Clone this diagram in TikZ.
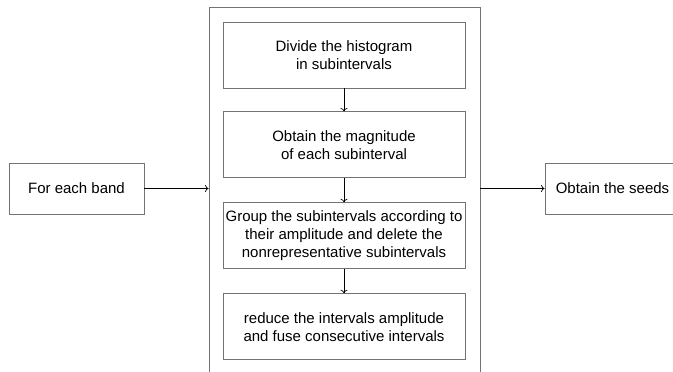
\documentclass[tikz,border=0pt]{standalone}
\usepackage{fontspec}
\setmainfont{Liberation Sans}
\usetikzlibrary{arrows.meta, positioning}

\begin{document}
\begin{tikzpicture}[x=1pt, y=-1pt, font=\fontsize{15}{18}\selectfont,
  stepbox/.style={draw=black!55, line width=0.9pt, minimum width=242pt, minimum height=66pt, align=center, inner sep=0pt},
  sidebox/.style={draw=black!55, line width=0.9pt, minimum width=135pt, minimum height=51pt, inner sep=0pt},
  flow/.style={-{To[length=3.5pt, width=7pt]}, line width=0.7pt}]
\useasboundingbox (0,0) rectangle (673,372);
\clip (0,0) rectangle (673,372);
% frame round the steps, open at the bottom
\node[draw=black!55, line width=0.9pt, minimum width=271pt, minimum height=390pt] (frame) at (344.5,202) {};
\node[stepbox] (divide) at (344,55) {Divide the histogram\\in subintervals};
\node[stepbox, below=23pt of divide] (magnitude) {Obtain the magnitude\\of each subinterval};
\node[stepbox, below=24pt of magnitude] (group) {Group the subintervals according to\\their amplitude and delete the\\nonrepresentative subintervals};
\node[stepbox, below=24pt of group] (reduce) {reduce the intervals amplitude\\and fuse consecutive intervals};
\draw[flow] (divide) -- (magnitude);
\draw[flow] (magnitude) -- (group);
\draw[flow] (group) -- (reduce);
% input and output
\node[sidebox] (band) at (76.5,188.5) {For each band};
\node[sidebox] (seeds) at (612.5,188.5) {Obtain the seeds};
\draw[flow] (band.east) -- (band.east -| frame.west);
\draw[flow] (seeds.west -| frame.east) -- (seeds.west);
\end{tikzpicture}
\end{document}
